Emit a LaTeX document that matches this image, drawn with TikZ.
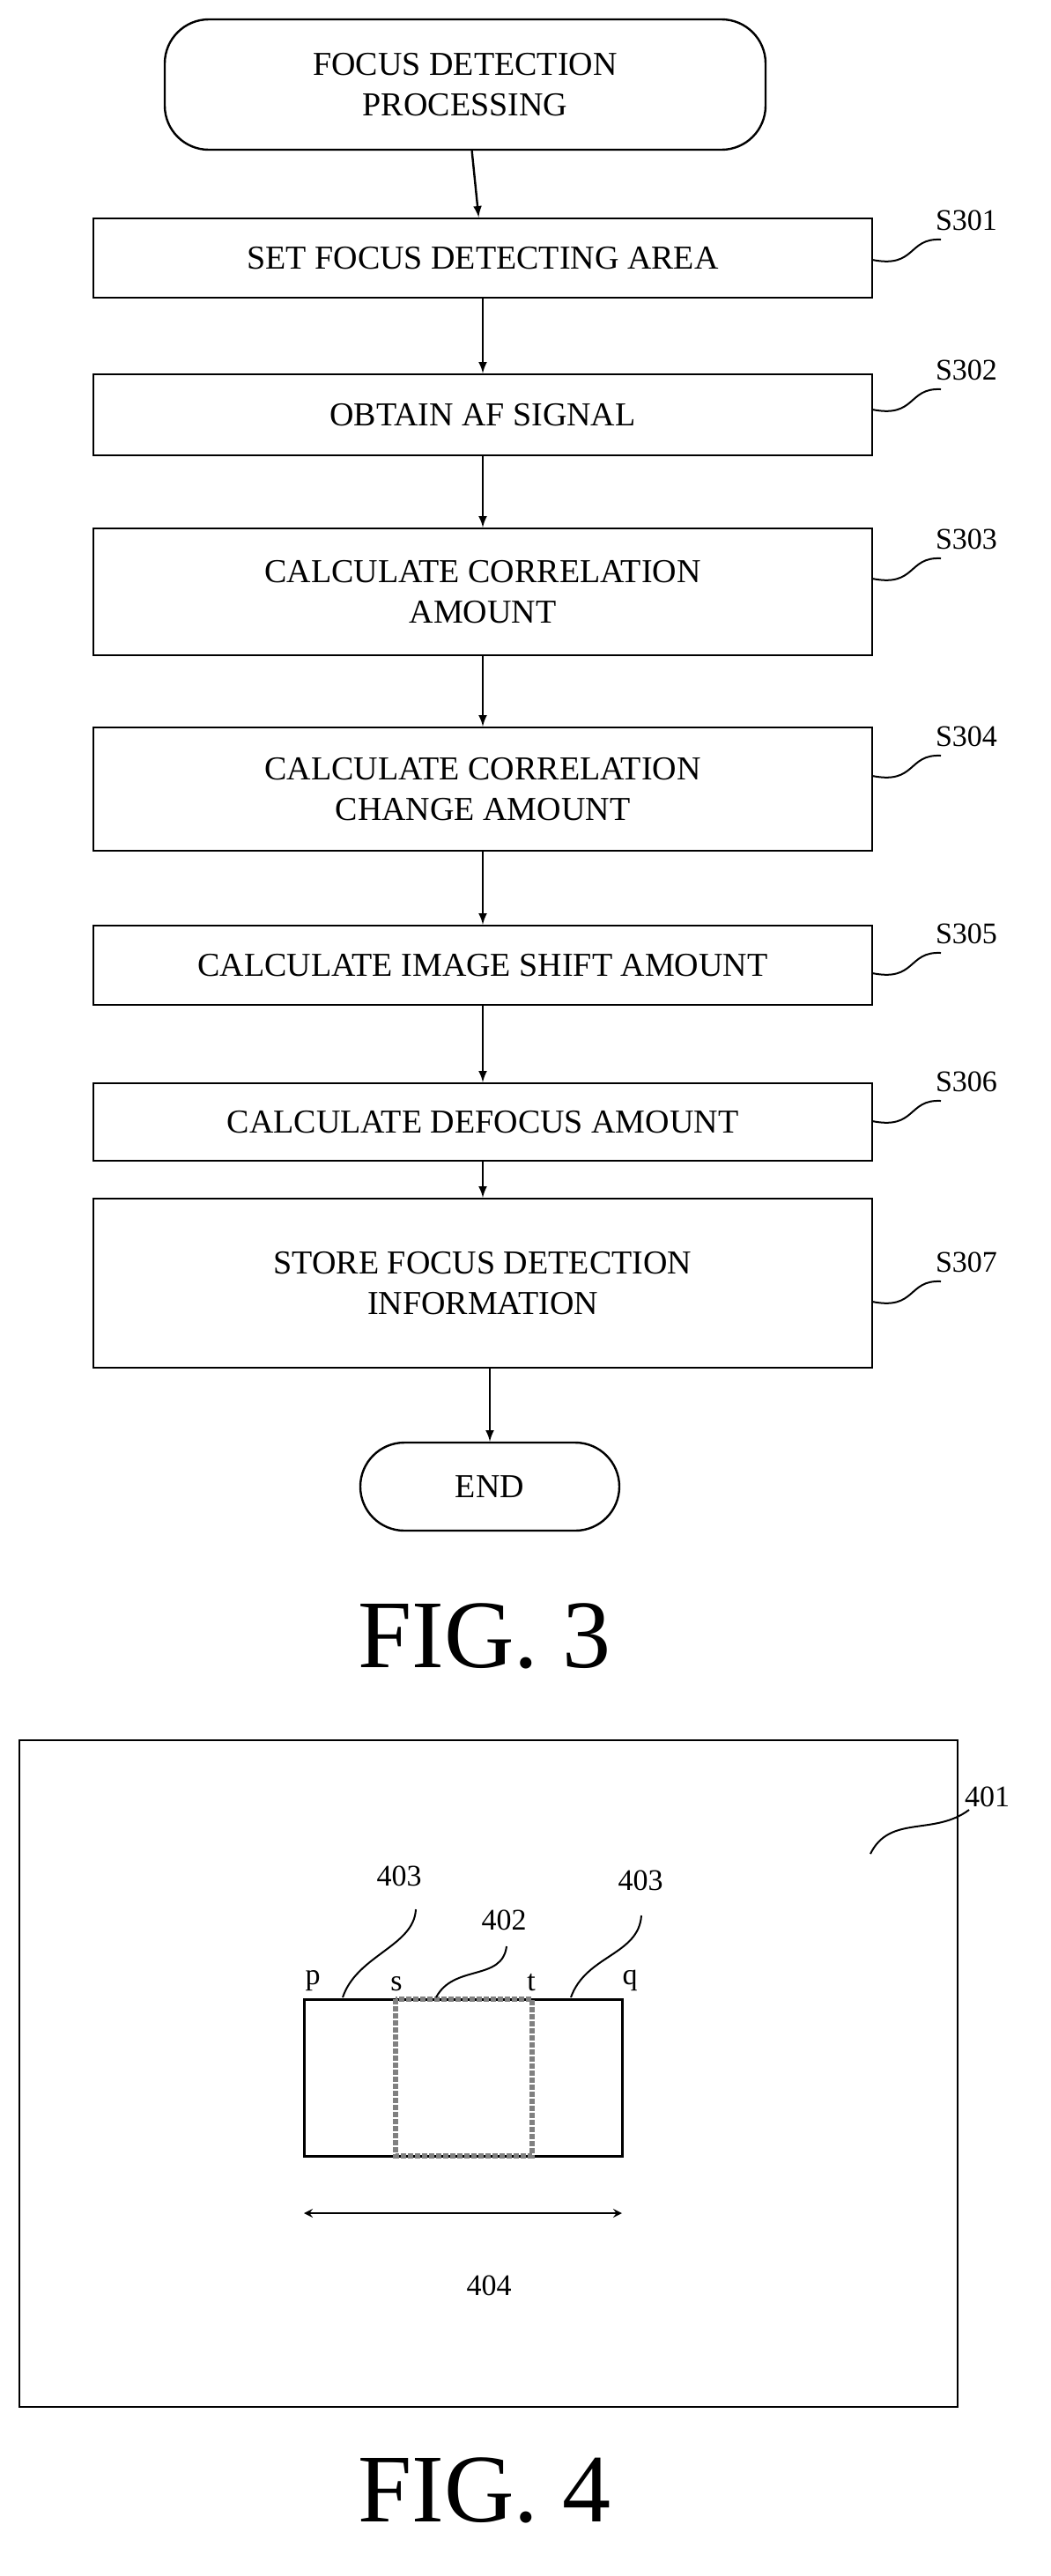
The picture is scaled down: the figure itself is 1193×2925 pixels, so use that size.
\documentclass[tikz,border=0pt]{standalone}
\usepackage{fontspec}
\setmainfont{Liberation Serif}
\usepackage{tikz}

\tikzset{
	stepbox/.style={draw,line width=1.2pt,minimum width=442pt,align=center,font=\fontsize{19}{23}\selectfont},
	term/.style={draw,line width=1.2pt,rounded corners=25pt,align=center,font=\fontsize{19}{23}\selectfont},
	lbl/.style={font=\fontsize{17}{20}\selectfont},
	flow/.style={line width=1.2pt,-latex},
}

\begin{document}
\begin{tikzpicture}[x=0.5pt,y=-0.5pt]
	\useasboundingbox (0,0) rectangle (1193,2925);
	
	\node[term,minimum width=341pt,minimum height=74pt] (start) at (528,96) {FOCUS DETECTION\\PROCESSING};
	\node[stepbox,minimum height=45pt] (s301) at (548,293) {SET FOCUS DETECTING AREA};
	\node[stepbox,minimum height=46pt] (s302) at (548,471) {OBTAIN AF SIGNAL};
	\node[stepbox,minimum height=72pt] (s303) at (548,672) {CALCULATE CORRELATION\\AMOUNT};
	\node[stepbox,minimum height=70pt] (s304) at (548,896) {CALCULATE CORRELATION\\CHANGE AMOUNT};
	\node[stepbox,minimum height=45pt] (s305) at (548,1096) {CALCULATE IMAGE SHIFT AMOUNT};
	\node[stepbox,minimum height=44pt] (s306) at (548,1274) {CALCULATE DEFOCUS AMOUNT};
	\node[stepbox,minimum height=96pt] (s307) at (548,1457) {STORE FOCUS DETECTION\\INFORMATION};
	\node[term,minimum width=147pt,minimum height=50pt] (end) at (556,1688) {END};
	
	\draw[flow] (start) -- (s301);
	\draw[flow] (s301) -- (s302);
	\draw[flow] (s302) -- (s303);
	\draw[flow] (s303) -- (s304);
	\draw[flow] (s304) -- (s305);
	\draw[flow] (s305) -- (s306);
	\draw[flow] (s306) -- (s307);
	\draw[flow] (s307.south -| end) -- (end);
	
	% step labels with squiggles
	\foreach \s/\y in {301/250,302/420,303/612,304/836,305/1060,306/1228,307/1433}{
		\node[lbl,anchor=west] (l\s) at (1055,\y) {S\s};
		\draw[line width=1pt] (990,{\y+45}) .. controls (1040,{\y+55}) and (1030,{\y+20}) .. (1068,{\y+22});
	}
	
	\node[font=\fontsize{55}{60}\selectfont] (fig3) at (550,1858) {FIG. 3};
	
	% FIG. 4
	\draw[line width=1.2pt] (22,1976) rectangle (1087,2733);
	\coordinate (area) at (988,2105);
	\node[lbl,anchor=west] (l401) at (1088,2040) {401};
	\draw[line width=1pt] (area) .. controls (1010,2060) and (1060,2085) .. (1100,2055);
	
	\coordinate (p) at (345,2270);
	\coordinate (q) at (706,2448);
	\draw[line width=1.5pt] (p) rectangle (q);
	\draw[line width=3pt,gray,densely dotted] (449,2270) rectangle (604,2448);
	\node[lbl,anchor=south] (lp) at (355,2268) {p};
	\node[lbl,anchor=south] (ls) at (450,2268) {s};
	\node[lbl,anchor=south] (lt) at (603,2268) {t};
	\node[lbl,anchor=south] (lq) at (715,2268) {q};
	
	\node[lbl] (l403a) at (453,2130) {403};
	\node[lbl] (l402) at (572,2180) {402};
	\node[lbl] (l403b) at (727,2135) {403};
	\draw[line width=1pt] (389,2268) .. controls (405,2220) and (470,2210) .. (472,2168);
	\draw[line width=1pt] (495,2268) .. controls (515,2230) and (570,2250) .. (575,2210);
	\draw[line width=1pt] (648,2268) .. controls (665,2220) and (725,2220) .. (728,2175);
	
	\coordinate (wl) at (345,2513);
	\coordinate (wr) at (706,2513);
	\draw[line width=1.2pt,<->,>=stealth] (wl) -- (wr);
	\node[lbl] (l404) at (555,2595) {404};
	
	\node[font=\fontsize{55}{60}\selectfont] (fig4) at (550,2828) {FIG. 4};
\end{tikzpicture}
\end{document}
